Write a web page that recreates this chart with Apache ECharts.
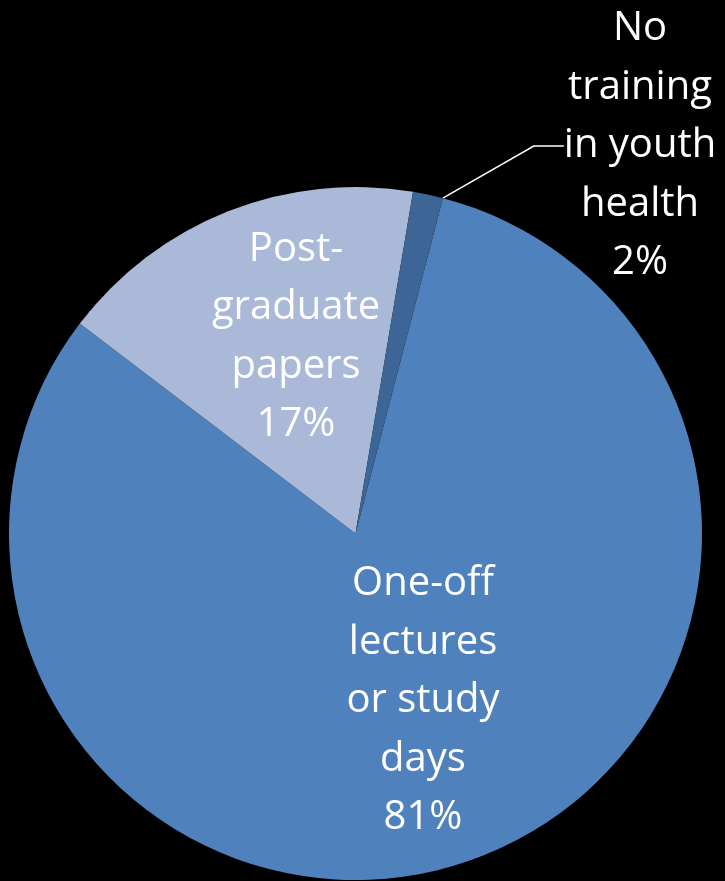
<!DOCTYPE html>
<html lang="en">
<head>
    <meta charset="UTF-8">
    <title>Youth health training</title>
    <script src="https://cdn.jsdelivr.net/npm/echarts@6/dist/echarts.min.js"></script>
    <style>
        html, body {margin: 0; padding: 0; background: #000;}
        #chart {width: 725px; height: 881px;}
    </style>
</head>
<body>
<div id="chart"></div>
<script>
    var names = ['One-off\nlectures\nor study\ndays', 'Post-\ngraduate\npapers', 'No\ntraining\nin youth\nhealth'];
    var values = [81.3, 17.3, 1.4];
    var pctLabels = ['81%', '17%', '2%'];
    var colors = ['#4F81BD', '#AAB9D8', '#3D6697'];

    // where each label sits (centre of the text block)
    var labelSpots = [
        {x: 423, y: 701},
        {x: 296, y: 337},
        {x: 640, y: 146}
    ];

    var pieData = names.map(function (n, i) {
        return {name: n, value: values[i], itemStyle: {color: colors[i]}};
    });

    var myChart = echarts.init(document.getElementById('chart'));

    var option = {
        backgroundColor: '#000',
        animation: false,
        series: [{
            type: 'pie',
            center: [355.5, 533.5],
            radius: 346.5,
            startAngle: 75.4,
            clockwise: true,
            data: pieData,
            itemStyle: {borderWidth: 0},
            label: {
                show: true,
                position: 'inside',
                formatter: function (p) {
                    return p.name + '\n' + pctLabels[p.dataIndex];
                },
                color: '#fff',
                fontFamily: 'Open Sans',
                fontSize: 40,
                lineHeight: 58.5,
                align: 'center'
            },
            labelLine: {
                show: true,
                lineStyle: {color: '#fff', width: 1.5}
            },
            labelLayout: function (params) {
                var s = labelSpots[params.dataIndex];
                var out = {x: s.x, y: s.y, align: 'center', verticalAlign: 'middle'};
                if (params.dataIndex === 2) {
                    out.labelLinePoints = [[431, 196], [547, 162], [557, 162]];
                }
                return out;
            }
        }]
    };

    myChart.setOption(option);
</script>
</body>
</html>
